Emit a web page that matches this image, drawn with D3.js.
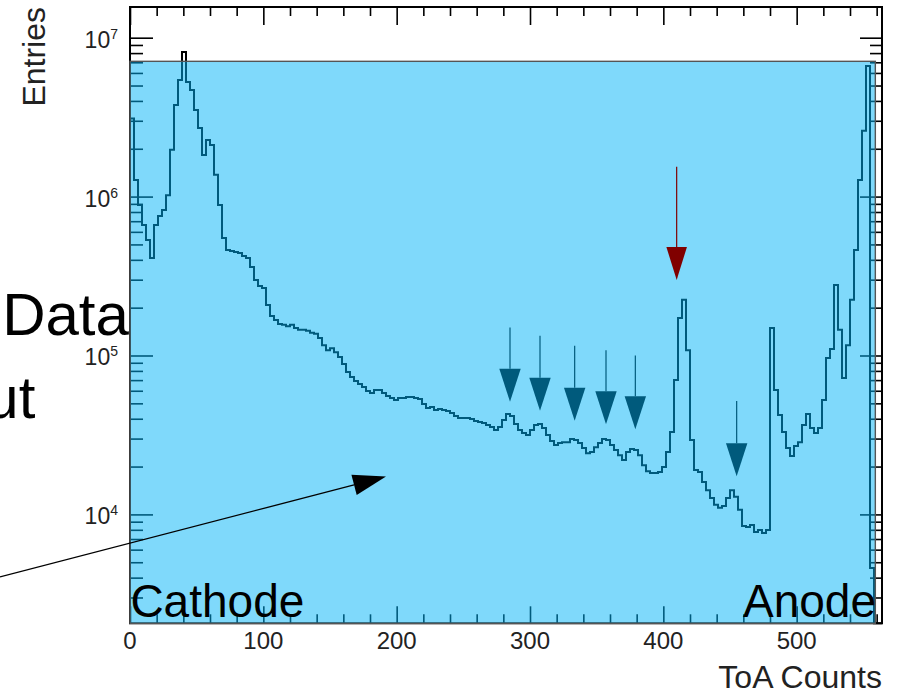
<!DOCTYPE html>
<html>
<head>
<meta charset="utf-8">
<script src="https://cdn.jsdelivr.net/npm/d3@7"></script>
<style>
    body { margin: 0; background: #fff; }
    svg { display: block; }
</style>
</head>
<body>
<script>

// ToA histogram, 3 counts per bin starting at 0
const binWidth = 3;
const entries = [
    3.1e6, 1.27e6, 8.85e5, 6.63e5, 5.33e5, 4.11e5, 6.63e5, 7.55e5, 8.24e5, 1.02e6,
    1.97e6, 3.77e6, 5.42e6, 8.13e6, 5.26e6, 4.69e6, 3.51e6, 2.70e6, 1.83e6, 2.27e6,
    2.11e6, 1.37e6, 8.85e5, 5.49e5, 4.61e5, 4.55e5, 4.48e5, 4.42e5, 4.23e5, 4.11e5,
    3.61e5, 2.99e5, 2.74e5, 2.66e5, 2.08e5, 1.77e5, 1.67e5, 1.58e5, 1.56e5, 1.53e5,
    1.56e5, 1.49e5, 1.45e5, 1.45e5, 1.43e5, 1.39e5, 1.37e5, 1.29e5, 1.16e5, 1.08e5,
    1.11e5, 1.05e5, 9.78e4, 8.84e4, 7.87e4, 7.32e4, 6.91e4, 6.62e4, 6.33e4, 5.98e4,
    5.81e4, 6.07e4, 6.07e4, 5.81e4, 5.56e4, 5.40e4, 5.25e4, 5.40e4, 5.40e4, 5.48e4,
    5.48e4, 5.40e4, 5.32e4, 4.95e4, 4.67e4, 4.74e4, 4.54e4, 4.60e4, 4.54e4, 4.47e4,
    4.35e4, 4.16e4, 4.04e4, 4.04e4, 4.04e4, 3.98e4, 3.87e4, 3.81e4, 3.76e4, 3.65e4,
    3.55e4, 3.40e4, 3.55e4, 3.93e4, 4.28e4, 4.16e4, 3.71e4, 3.40e4, 3.25e4, 3.16e4,
    3.40e4, 3.65e4, 3.71e4, 3.50e4, 3.16e4, 2.90e4, 2.73e4, 2.81e4, 2.85e4, 2.85e4,
    2.98e4, 2.94e4, 2.81e4, 2.62e4, 2.43e4, 2.47e4, 2.65e4, 2.81e4, 2.98e4, 2.94e4,
    2.73e4, 2.54e4, 2.36e4, 2.20e4, 2.47e4, 2.58e4, 2.54e4, 2.36e4, 2.04e4, 1.87e4,
    1.82e4, 1.82e4, 1.85e4, 1.99e4, 2.47e4, 3.30e4, 7.01e4, 1.72e5, 2.24e5, 1.08e5,
    2.94e4, 1.90e4, 1.85e4, 1.60e4, 1.42e4, 1.27e4, 1.15e4, 1.10e4, 1.13e4, 1.27e4,
    1.42e4, 1.29e4, 1.07e4, 8.45e3, 8.33e3, 8.57e3, 7.74e3, 7.97e3, 7.63e3, 7.97e3,
    1.49e5, 6.07e4, 4.22e4, 3.30e4, 2.62e4, 2.33e4, 2.69e4, 2.85e4, 3.65e4, 4.28e4,
    3.50e4, 3.25e4, 3.50e4, 5.25e4, 9.64e4, 1.10e5, 2.78e5, 1.45e5, 7.22e4, 1.16e5,
    2.24e5, 4.61e5, 1.27e6, 2.6e6, 6.64e6, 4.60e3, 0, 0
];

const xDomain = [0, 564];
const yDomain = [2.064e3, 1.56e7];
const xLabels = [0, 100, 200, 300, 400, 500];
const yExponents = [4, 5, 6, 7];

// arrows marking the small peaks: ToA position, tail and tip in entries
const peakArrows = [
    {toa: 285, from: 1.50e5, to: 5.12e4},
    {toa: 307.5, from: 1.33e5, to: 4.49e4},
    {toa: 333.5, from: 1.15e5, to: 3.89e4},
    {toa: 357, from: 1.08e5, to: 3.69e4},
    {toa: 379, from: 1.00e5, to: 3.43e4},
    {toa: 455, from: 5.17e4, to: 1.74e4}
];
const mainArrow = {toa: 410, from: 1.54e6, to: 2.99e5};

// shaded band and the pointer coming in from the left
const band = {toa0: 0, toa1: 559, top: 7.1e6};
const pointer = {from: [-97.5, 4.04e3], to: [192, 1.73e4]};

const sideText = [
    {text: "Data", toa: -0.8, entries: 1.35e5, anchor: "end", size: 60},
    {text: "ut", toa: -71, entries: 4.04e4, anchor: "end", size: 60},
    {text: "Cathode", toa: 0.3, entries: 2.27e3, anchor: "start", size: 46},
    {text: "Anode", toa: 559.5, entries: 2.27e3, anchor: "end", size: 46}
];

const font = "'Liberation Sans', Arial, Helvetica, sans-serif";

window.onload = function () {
    drawHistogram();
}

function drawHistogram() {
    let vis = {};
    vis.width = 898;
    vis.height = 697;
    vis.margin = ({top: 7, right: 16, bottom: 73.7, left: 130});

    vis.svg = d3.select('body')
        .append('svg')
        .attr('width', vis.width)
        .attr('height', vis.height);

    vis.x = d3.scaleLinear()
        .domain(xDomain)
        .range([vis.margin.left, vis.width - vis.margin.right]);

    vis.y = d3.scaleLog()
        .domain(yDomain)
        .range([vis.height - vis.margin.bottom, vis.margin.top])
        .clamp(true);

    const x0 = vis.x.range()[0], x1 = vis.x.range()[1];
    const y0 = vis.y.range()[0], y1 = vis.y.range()[1];

    // tick positions
    const xMajor = d3.range(0, 564, 100);
    const xMinor = d3.range(0, 564, 20).filter(d => d % 100 !== 0);
    const yMajor = yExponents.map(e => Math.pow(10, e));
    let yMinor = [];
    for (let e = 3; e <= 7; e++) {
        for (let k = 2; k <= 9; k++) {
            const v = k * Math.pow(10, e);
            if (v > yDomain[0] && v < yDomain[1]) yMinor.push(v);
        }
    }

    const plain = g => {
        g.select('.domain').remove();
        g.selectAll('.tick line').attr('stroke', '#000').attr('stroke-width', 1.6);
    };

    // inward ticks on all four sides
    vis.svg.append('g').attr('transform', `translate(0,${y0})`)
        .call(d3.axisTop(vis.x).tickValues(xMajor).tickSize(17).tickFormat('')).call(plain);
    vis.svg.append('g').attr('transform', `translate(0,${y0})`)
        .call(d3.axisTop(vis.x).tickValues(xMinor).tickSize(9).tickFormat('')).call(plain);
    vis.svg.append('g').attr('transform', `translate(0,${y1})`)
        .call(d3.axisBottom(vis.x).tickValues(xMajor).tickSize(18).tickFormat('')).call(plain);
    vis.svg.append('g').attr('transform', `translate(0,${y1})`)
        .call(d3.axisBottom(vis.x).tickValues(xMinor).tickSize(9).tickFormat('')).call(plain);
    vis.svg.append('g').attr('transform', `translate(${x0},0)`)
        .call(d3.axisRight(vis.y).tickValues(yMajor).tickSize(23).tickFormat('')).call(plain);
    vis.svg.append('g').attr('transform', `translate(${x0},0)`)
        .call(d3.axisRight(vis.y).tickValues(yMinor).tickSize(13).tickFormat('')).call(plain);
    vis.svg.append('g').attr('transform', `translate(${x1},0)`)
        .call(d3.axisLeft(vis.y).tickValues(yMajor).tickSize(22).tickFormat('')).call(plain);
    vis.svg.append('g').attr('transform', `translate(${x1},0)`)
        .call(d3.axisLeft(vis.y).tickValues(yMinor).tickSize(12).tickFormat('')).call(plain);

    // histogram outline
    let pts = entries.map((v, i) => [i * binWidth, v > 0 ? v : yDomain[0]]);
    pts.push([entries.length * binWidth, pts[pts.length - 1][1]]);
    let line = d3.line()
        .x(d => vis.x(d[0]))
        .y(d => vis.y(d[1]))
        .curve(d3.curveStepAfter);

    vis.svg.append('path')
        .attr('fill', 'none')
        .attr('stroke', '#000')
        .attr('stroke-width', 2)
        .attr('d', line(pts));

    // frame
    vis.svg.append('rect')
        .attr('x', x0).attr('y', y1)
        .attr('width', x1 - x0).attr('height', y0 - y1)
        .attr('fill', 'none')
        .attr('stroke', '#000')
        .attr('stroke-width', 2);

    // arrows at the small peaks
    peakArrows.forEach(a => drawDownArrow(vis, a, '#000', 10.7, 33));

    // translucent band over the plot
    vis.svg.append('rect')
        .attr('x', vis.x(band.toa0))
        .attr('y', vis.y(band.top))
        .attr('width', vis.x(band.toa1) - vis.x(band.toa0))
        .attr('height', y0 - vis.y(band.top))
        .attr('fill', 'rgba(0,180,248,0.5)')
        .attr('stroke', '#555')
        .attr('stroke-width', 1.4);

    drawDownArrow(vis, mainArrow, '#800000', 10.3, 33);

    // tick labels
    vis.svg.append('g')
        .selectAll('text')
        .data(xLabels)
        .join('text')
        .attr('x', d => vis.x(d))
        .attr('y', y0 + 26)
        .attr('text-anchor', 'middle')
        .attr('font-family', font)
        .attr('font-size', 24)
        .attr('fill', '#222')
        .text(d => d);

    const yl = vis.svg.append('g')
        .selectAll('text')
        .data(yExponents)
        .join('text')
        .attr('x', x0 - 12)
        .attr('y', d => vis.y(Math.pow(10, d)) + 10)
        .attr('text-anchor', 'end')
        .attr('font-family', font)
        .attr('font-size', 23)
        .attr('fill', '#222');
    yl.append('tspan').text('10');
    yl.append('tspan')
        .attr('dy', -9)
        .attr('font-size', 14)
        .text(d => d);

    // axis titles
    vis.svg.append('text')
        .attr('transform', `translate(45,${y1}) rotate(-90)`)
        .attr('text-anchor', 'end')
        .attr('font-family', font)
        .attr('font-size', 32)
        .attr('fill', '#222')
        .text('Entries');

    vis.svg.append('text')
        .attr('x', x1)
        .attr('y', 688)
        .attr('text-anchor', 'end')
        .attr('font-family', font)
        .attr('font-size', 32)
        .attr('fill', '#222')
        .text('ToA Counts');

    // pointer arrow
    const yFree = vis.y.copy().clamp(false);
    const px0 = vis.x(pointer.from[0]), py0 = yFree(pointer.from[1]);
    const px1 = vis.x(pointer.to[0]), py1 = yFree(pointer.to[1]);
    const ang = Math.atan2(py1 - py0, px1 - px0);
    const headLen = 33, headHalf = 10.5;
    const bx = px1 - headLen * Math.cos(ang), by = py1 - headLen * Math.sin(ang);
    vis.svg.append('line')
        .attr('x1', px0).attr('y1', py0)
        .attr('x2', bx).attr('y2', by)
        .attr('stroke', '#000')
        .attr('stroke-width', 1.3);
    vis.svg.append('path')
        .attr('fill', '#000')
        .attr('d', `M${px1},${py1}L${bx + headHalf * Math.sin(ang)},${by - headHalf * Math.cos(ang)}L${bx - headHalf * Math.sin(ang)},${by + headHalf * Math.cos(ang)}Z`);

    // annotations
    vis.svg.append('g')
        .selectAll('text')
        .data(sideText)
        .join('text')
        .attr('x', d => vis.x(d.toa))
        .attr('y', d => yFree(d.entries))
        .attr('text-anchor', d => d.anchor)
        .attr('font-family', font)
        .attr('font-size', d => d.size)
        .attr('fill', '#000')
        .text(d => d.text);

    return vis;
}

function drawDownArrow(vis, a, color, half, len) {
    const ax = vis.x(a.toa);
    const top = vis.y(a.from), tip = vis.y(a.to);
    vis.svg.append('line')
        .attr('x1', ax).attr('y1', top)
        .attr('x2', ax).attr('y2', tip - len)
        .attr('stroke', color)
        .attr('stroke-width', 1.2);
    vis.svg.append('path')
        .attr('fill', color)
        .attr('d', `M${ax},${tip}L${ax - half},${tip - len}L${ax + half},${tip - len}Z`);
}

</script>
</body>
</html>
